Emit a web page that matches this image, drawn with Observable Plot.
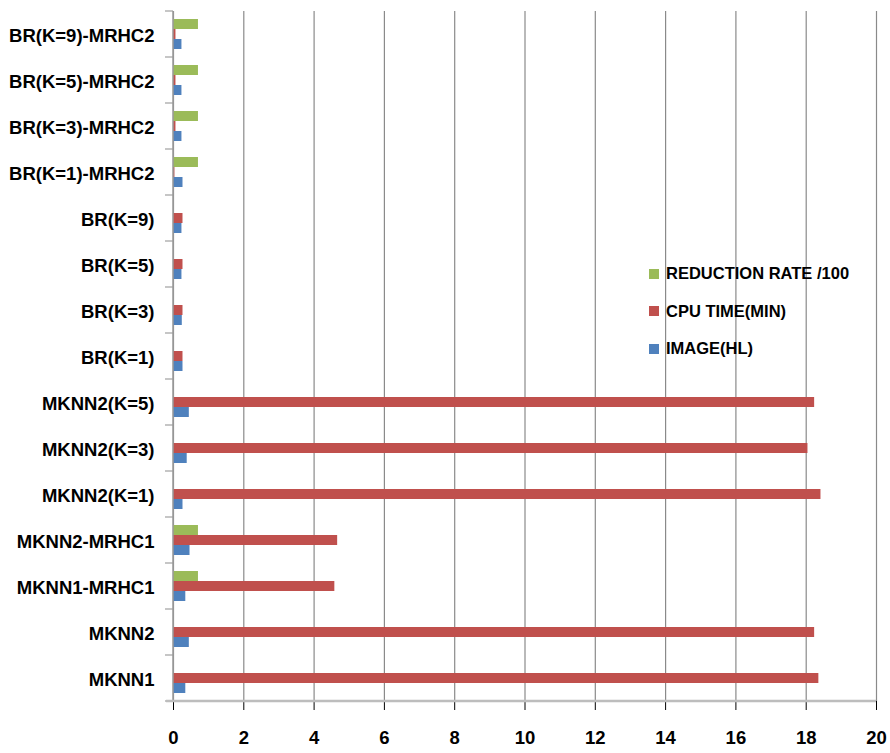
<!DOCTYPE html>
<html>
<head>
<meta charset="utf-8">
<script src="https://cdn.jsdelivr.net/npm/d3@7"></script>
<script src="https://cdn.jsdelivr.net/npm/@observablehq/plot@0.6"></script>
<style>
  html, body { margin: 0; padding: 0; background: #fff; }
  #wrap { position: relative; width: 890px; height: 753px; }
  #wrap svg [aria-label="x-axis tick"] { stroke: #a0a0a0; }
  #wrap svg [aria-label="x-axis tick label"],
  #wrap svg [aria-label="fy-axis tick label"] { font-size: 18.5px; font-weight: bold; }
  #legend {
    position: absolute; left: 649px; top: 255px;
    font-family: "Liberation Sans", Arial, sans-serif; font-weight: bold; font-size: 16.5px;
    color: #000;
  }
  #legend .item { display: flex; align-items: center; height: 37.5px; white-space: pre; }
  #legend .sw { width: 10px; height: 10px; margin-right: 7px; }
</style>
</head>
<body>
<div id="wrap"></div>
<script>
// Methods, listed top to bottom
const categories = [
  "BR(K=9)-MRHC2", "BR(K=5)-MRHC2", "BR(K=3)-MRHC2", "BR(K=1)-MRHC2",
  "BR(K=9)", "BR(K=5)", "BR(K=3)", "BR(K=1)",
  "MKNN2(K=5)", "MKNN2(K=3)", "MKNN2(K=1)",
  "MKNN2-MRHC1", "MKNN1-MRHC1", "MKNN2", "MKNN1"
];

// Series names, in drawing order within each group (top to bottom)
const seriesNames = ["REDUCTION RATE /100", "CPU TIME(MIN)", "IMAGE(HL)"];
const seriesColors = ["#9bbb59", "#c0504d", "#4f81bd"];

// Values per method (null = no bar)
const reductionRate = [0.71, 0.71, 0.71, 0.71, null, null, null, null, null, null, null, 0.71, 0.71, null, null];
const cpuTime = [0.07, 0.07, 0.07, 0.04, 0.27, 0.27, 0.27, 0.27, 18.24, 18.05, 18.42, 4.67, 4.59, 18.24, 18.36];
const imageHL = [0.24, 0.24, 0.24, 0.27, 0.24, 0.24, 0.25, 0.27, 0.45, 0.39, 0.27, 0.47, 0.35, 0.45, 0.35];

// Horizontal axis ticks
const xTicks = [0, 2, 4, 6, 8, 10, 12, 14, 16, 18, 20];

const seriesValues = [reductionRate, cpuTime, imageHL];
const rows = categories.flatMap((category, i) =>
  seriesNames.map((series, s) => ({category, series, value: seriesValues[s][i]}))
).filter(d => d.value != null);

const font = '"Liberation Sans", Arial, sans-serif';

const chart = Plot.plot({
  width: 890,
  height: 753,
  marginLeft: 173,
  marginRight: 14,
  marginTop: 8,
  marginBottom: 50,
  style: {fontFamily: font, fontSize: "18.5px", fontWeight: "bold", color: "#000", background: "#fff"},
  x: {domain: [0, 20], axis: null},
  y: {domain: seriesNames, axis: null, paddingInner: 0, paddingOuter: 0.75},
  fy: {domain: categories, padding: 0, axis: null},
  color: {domain: seriesNames, range: seriesColors},
  marks: [
    Plot.ruleX(xTicks, {stroke: "#8a8a8a", strokeWidth: 1.2}),
    Plot.barX(rows, {fy: "category", y: "series", x: "value", fill: "series"}),
    Plot.axisX({anchor: "bottom", ticks: xTicks, tickSize: 9, tickPadding: 20, tickFormat: d => String(d), label: null}),
    Plot.axisFy({anchor: "left", tickSize: 0, tickPadding: 19, label: null, dy: 1.5})
  ]
});

// Axis lines and category separators drawn from the chart's scales
const xs = chart.scale("x");
const fys = chart.scale("fy");
const svg = d3.select(chart);
const xStart = xs.apply(0);
const xEnd = xs.apply(20);
const bounds = categories.map(c => fys.apply(c));
bounds.push(fys.apply(categories[categories.length - 1]) + fys.bandwidth);
const plotTop = bounds[0];
const plotBottom = bounds[bounds.length - 1];
const g = svg.append("g").attr("aria-label", "axis lines");
g.selectAll("line.sep").data(bounds).join("line")
  .attr("x1", xStart - 8).attr("x2", xStart)
  .attr("y1", d => d).attr("y2", d => d)
  .attr("stroke", "#a0a0a0").attr("stroke-width", 1.2);
g.append("line")
  .attr("x1", xStart).attr("x2", xStart).attr("y1", plotTop).attr("y2", plotBottom)
  .attr("stroke", "#9a9a9a").attr("stroke-width", 1.5);
g.append("line")
  .attr("x1", xStart - 7).attr("x2", xEnd).attr("y1", plotBottom).attr("y2", plotBottom)
  .attr("stroke", "#bdbdbd").attr("stroke-width", 2.5);

const wrap = document.getElementById("wrap");
wrap.appendChild(chart);

// Legend, listed in the same order as the bars in each group
const legend = document.createElement("div");
legend.id = "legend";
seriesNames.forEach((name, i) => {
  const item = document.createElement("div");
  item.className = "item";
  const sw = document.createElement("span");
  sw.className = "sw";
  sw.style.background = seriesColors[i];
  const label = document.createElement("span");
  label.textContent = name;
  item.appendChild(sw);
  item.appendChild(label);
  legend.appendChild(item);
});
wrap.appendChild(legend);
</script>
</body>
</html>
